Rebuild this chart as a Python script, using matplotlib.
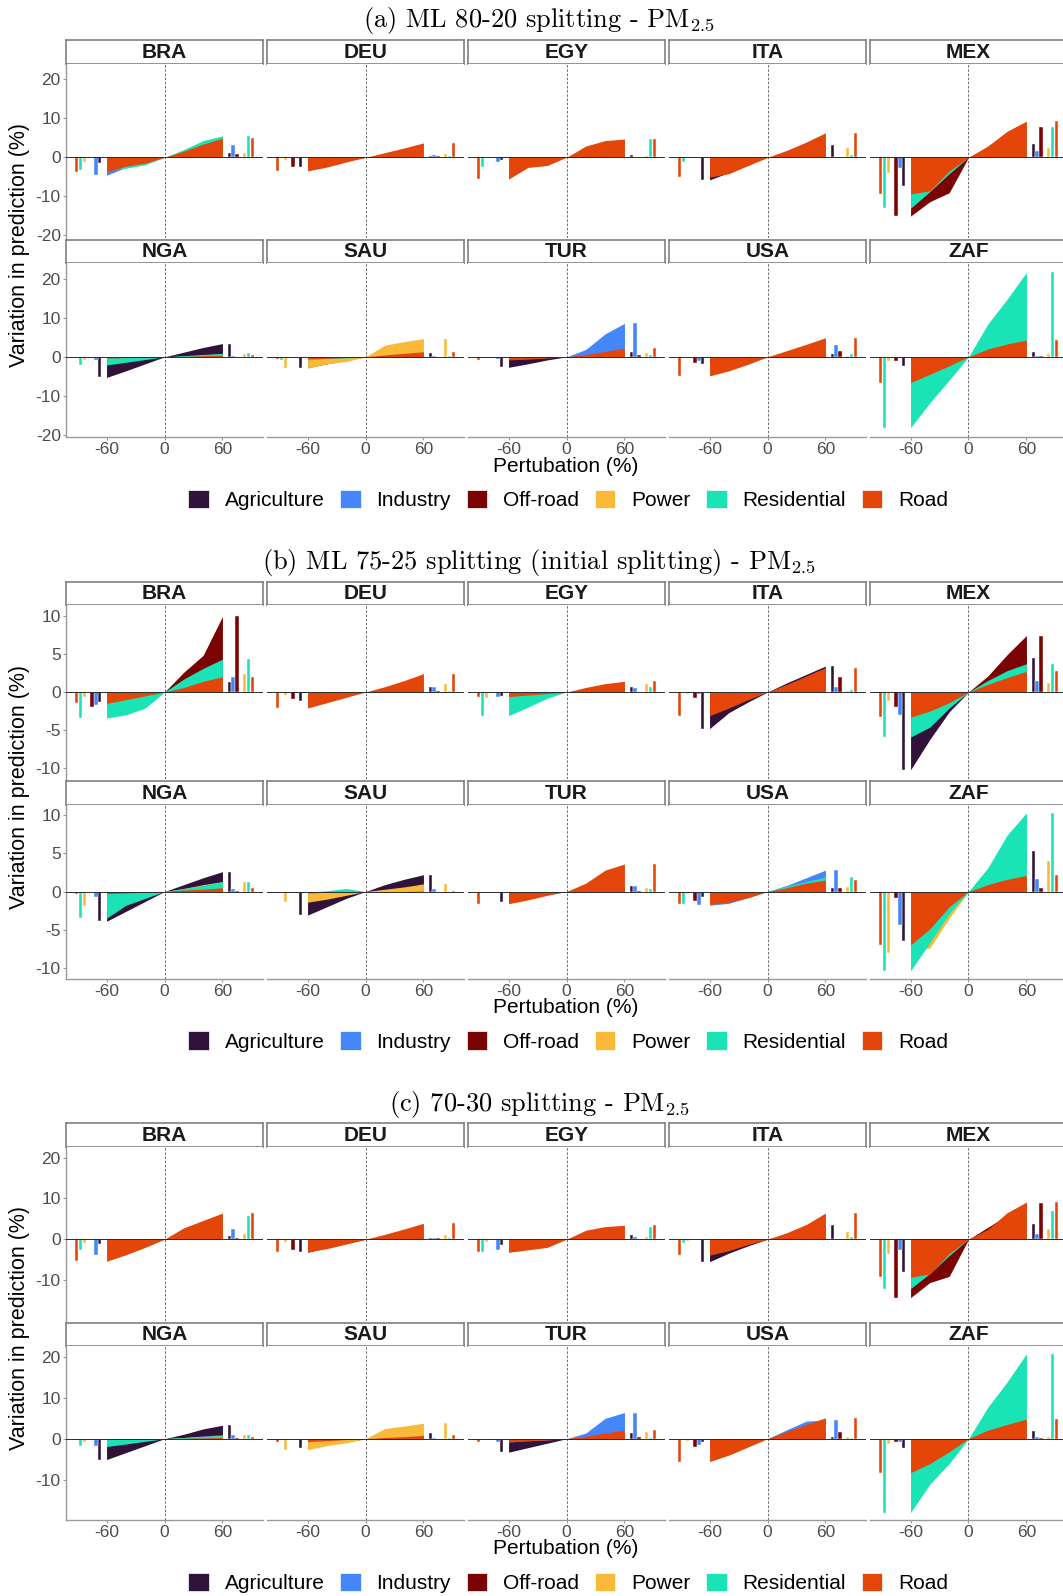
import numpy as np
import matplotlib.pyplot as plt
from matplotlib.patches import Patch

plt.rcParams['font.family'] = ['Liberation Sans', 'DejaVu Sans']
plt.rcParams['mathtext.fontset'] = 'cm'
plt.rcParams['axes.unicode_minus'] = False

W, H = 1063, 1596

pert = [-60, -40, -20, 0, 20, 40, 60]
sectors = ['Agriculture', 'Industry', 'Off-road', 'Power', 'Residential', 'Road']
colors = ['#30123B', '#4686FB', '#7A0403', '#FABA39', '#1AE4B6', '#E4460A']
countries = ['BRA', 'DEU', 'EGY', 'ITA', 'MEX', 'NGA', 'SAU', 'TUR', 'USA', 'ZAF']

# values per country, one row per sector (Agriculture ... Road), at pert points
sec_a = {
    'BRA': [[-1.5, -1.0, -0.5, 0, 0.4, 0.8, 1.2],
            [-4.6, -2.6, -1.3, 0, 1.1, 2.2, 3.2],
            [-0.2, -0.1, -0.1, 0, 0.2, 0.5, 0.9],
            [-1.3, -0.9, -0.4, 0, 0.4, 0.8, 1.2],
            [-3.2, -2.8, -1.9, 0, 2.0, 4.3, 5.5],
            [-3.7, -2.3, -1.5, 0, 1.6, 3.4, 4.9]],
    'DEU': [[-2.5, -1.6, -0.8, 0, 0.1, 0.2, 0.3],
            [-0.1, 0, 0, 0, 0.2, 0.3, 0.5],
            [-2.5, -1.6, -0.8, 0, 0.1, 0.2, 0.3],
            [-0.6, -0.4, -0.2, 0, 0.3, 0.5, 0.8],
            [-0.2, -0.1, -0.1, 0, 0.1, 0.2, 0.3],
            [-3.5, -2.5, -1.2, 0, 1.2, 2.4, 3.7]],
    'EGY': [[-0.6, -0.4, -0.2, 0, 0.2, 0.5, 0.7],
            [-1.3, -0.9, -0.4, 0, 0.1, 0.1, 0.2],
            [0, 0, 0, 0, 0, 0, 0],
            [-0.3, -0.2, -0.1, 0, 0.1, 0.2, 0.3],
            [-2.5, -1.5, -0.8, 0, 0.3, 0.5, 4.7],
            [-5.6, -2.6, -2.1, 0, 2.9, 4.3, 4.7]],
    'ITA': [[-5.8, -3.9, -1.9, 0, 1.0, 2.0, 3.1],
            [-0.2, -0.1, 0, 0, 0.1, 0.1, 0.1],
            [0, 0, 0, 0, 0, 0, 0],
            [-0.3, -0.2, -0.1, 0, 0.7, 1.5, 2.3],
            [-1.2, -0.8, -0.4, 0, 0.2, 0.4, 0.6],
            [-5.1, -4.2, -2.1, 0, 1.8, 3.9, 6.3]],
    'MEX': [[-7.3, -5.0, -2.5, 0, 1.2, 2.4, 3.5],
            [-2.8, -1.9, -0.9, 0, 0.5, 1.1, 1.6],
            [-15.1, -11.4, -9.1, 0, 2.5, 5.2, 7.8],
            [-4.1, -2.8, -1.4, 0, 0.8, 1.6, 2.4],
            [-13.1, -8.8, -4.2, 0, 2.6, 5.3, 7.8],
            [-9.4, -8.6, -3.5, 0, 2.9, 6.7, 9.3]],
    'NGA': [[-5.3, -3.6, -1.8, 0, 1.2, 2.4, 3.4],
            [-0.7, -0.5, -0.2, 0, 0.1, 0.1, 0.2],
            [0, 0, 0, 0, 0, 0, 0.05],
            [-0.8, -0.5, -0.3, 0, 0.2, 0.5, 0.7],
            [-2.1, -1.4, -0.7, 0, 0.3, 0.6, 0.9],
            [-0.3, -0.2, -0.1, 0, 0.1, 0.3, 0.4]],
    'SAU': [[-2.8, -1.8, -0.9, 0, 0.3, 0.6, 0.9],
            [-0.1, 0, 0, 0, 0.1, 0.2, 0.3],
            [0, 0, 0, 0, 0, 0, 0],
            [-2.9, -1.8, -1.2, 0, 3.0, 3.9, 4.7],
            [-0.8, -0.5, -0.3, 0, 0.1, 0.1, 0.2],
            [-0.5, -0.4, -0.2, 0, 0.5, 0.9, 1.3]],
    'TUR': [[-2.7, -1.8, -0.8, 0, 0.4, 0.8, 1.2],
            [-0.6, -0.4, -0.2, 0, 1.9, 5.9, 8.6],
            [-0.2, -0.1, 0, 0, 0.2, 0.3, 0.5],
            [-0.1, 0, 0, 0, 0.3, 0.6, 1.0],
            [-0.3, -0.2, -0.1, 0, 0.2, 0.3, 0.5],
            [-0.8, -0.6, -0.3, 0, 0.6, 1.4, 2.2]],
    'USA': [[-1.8, -1.2, -0.6, 0, 0.3, 0.6, 0.8],
            [-1.0, -0.7, -0.3, 0, 1.0, 2.0, 3.0],
            [-1.5, -1.0, -0.5, 0, 0.5, 1.0, 1.6],
            [-0.1, 0, 0, 0, 0.1, 0.2, 0.3],
            [-0.3, -0.2, -0.1, 0, 0.3, 0.5, 0.7],
            [-4.9, -3.6, -1.9, 0, 1.6, 3.2, 4.9]],
    'ZAF': [[-2.3, -1.5, -0.8, 0, 0.4, 0.9, 1.3],
            [-0.3, -0.2, -0.1, 0, 0.1, 0.2, 0.3],
            [-1.0, -0.7, -0.3, 0, 0, 0.1, 0.1],
            [-1.2, -0.8, -0.4, 0, 0.3, 0.5, 0.8],
            [-18.2, -11.8, -6.0, 0, 8.4, 14.8, 21.7],
            [-6.6, -4.5, -2.3, 0, 2.0, 3.3, 4.3]],
}

sec_b = {
    'BRA': [[-1.3, -0.9, -0.4, 0, 0.4, 0.9, 1.3],
            [-1.7, -1.1, -0.6, 0, 0.6, 1.3, 2.0],
            [-1.9, -1.3, -0.6, 0, 2.6, 4.8, 9.9],
            [-0.7, -0.5, -0.2, 0, 0.8, 1.6, 2.4],
            [-3.4, -3.0, -2.1, 0, 1.7, 3.1, 4.3],
            [-1.5, -1.0, -0.5, 0, 0.6, 1.4, 2.0]],
    'DEU': [[-1.2, -0.8, -0.4, 0, 0.2, 0.5, 0.7],
            [-0.1, 0, 0, 0, 0.2, 0.5, 0.7],
            [-0.9, -0.6, -0.3, 0, 0, 0.1, 0.1],
            [-0.4, -0.3, -0.1, 0, 0.3, 0.7, 1.0],
            [-0.1, 0, 0, 0, 0, 0.1, 0.1],
            [-2.1, -1.4, -0.7, 0, 0.7, 1.5, 2.4]],
    'EGY': [[-0.5, -0.3, -0.2, 0, 0.2, 0.4, 0.6],
            [-0.6, -0.4, -0.2, 0, 0.2, 0.3, 0.5],
            [0, 0, 0, 0, 0, 0, 0],
            [-0.8, -0.5, -0.3, 0, 0.3, 0.7, 1.0],
            [-3.1, -2.0, -0.8, 0, 0.2, 0.4, 0.6],
            [-0.6, -0.4, -0.2, 0, 0.6, 1.1, 1.4]],
    'ITA': [[-4.8, -2.7, -1.3, 0, 1.2, 2.3, 3.4],
            [-0.3, -0.2, -0.1, 0, 0.2, 0.5, 0.7],
            [-0.75, -0.5, -0.25, 0, 0.6, 1.3, 2.0],
            [-0.2, -0.1, -0.1, 0, 0, 0.1, 0.1],
            [-0.1, 0, 0, 0, 0.1, 0.2, 0.3],
            [-3.1, -2.1, -1.0, 0, 1.0, 2.1, 3.2]],
    'MEX': [[-10.2, -6.2, -2.6, 0, 1.4, 3.0, 4.5],
            [-3.0, -2.0, -1.0, 0, 0.5, 1.0, 1.5],
            [-2.0, -1.3, -0.7, 0, 2.1, 4.9, 7.4],
            [-1.2, -0.8, -0.4, 0, 0.4, 0.8, 1.2],
            [-5.9, -4.6, -2.1, 0, 1.5, 2.8, 3.7],
            [-3.3, -2.5, -1.4, 0, 1.0, 1.9, 2.7]],
    'NGA': [[-3.9, -2.6, -1.3, 0, 0.9, 1.8, 2.6],
            [-0.7, -0.5, -0.2, 0, 0.1, 0.2, 0.3],
            [0, 0, 0, 0, 0, 0, 0.05],
            [-1.9, -1.3, -0.6, 0, 0.4, 0.9, 1.3],
            [-3.5, -1.8, -0.9, 0, 0.4, 0.8, 1.3],
            [-0.3, -0.2, -0.1, 0, 0.2, 0.3, 0.5]],
    'SAU': [[-3.1, -2.0, -0.9, 0, 0.9, 1.6, 2.2],
            [-0.2, -0.1, -0.1, 0, 0.1, 0.2, 0.3],
            [0, 0, 0, 0, 0, 0, 0],
            [-1.4, -1.0, -0.5, 0, 0.3, 0.6, 1.0],
            [-0.1, 0.1, 0.4, 0, 0, 0, 0],
            [-0.2, -0.1, -0.1, 0, 0, 0, 0.05]],
    'TUR': [[-1.4, -0.9, -0.4, 0, 0.2, 0.5, 0.7],
            [-0.1, 0, 0, 0, 0.2, 0.5, 0.7],
            [0, 0, 0, 0, 0, 0, 0.1],
            [-0.1, 0, 0, 0, 0.1, 0.3, 0.4],
            [0, 0, 0, 0, 0.1, 0.2, 0.3],
            [-1.6, -1.1, -0.5, 0, 1.1, 2.8, 3.6]],
    'USA': [[-0.7, -0.5, -0.2, 0, 0.2, 0.3, 0.5],
            [-1.8, -1.55, -0.8, 0, 0.8, 1.8, 2.8],
            [-1.2, -0.8, -0.4, 0, 0.1, 0.3, 0.4],
            [-0.3, -0.2, -0.1, 0, 0.1, 0.2, 0.6],
            [-1.7, -1.3, -0.7, 0, 0.7, 1.3, 1.9],
            [-1.7, -1.4, -0.8, 0, 0.5, 1.1, 1.5]],
    'ZAF': [[-6.5, -4.3, -2.1, 0, 1.8, 3.5, 5.3],
            [-4.4, -2.9, -1.4, 0, 0.5, 1.1, 1.6],
            [-0.9, -0.6, -0.3, 0, 0.2, 0.3, 0.5],
            [-8.1, -7.4, -3.5, 0, 1.3, 2.7, 4.0],
            [-10.4, -6.7, -2.9, 0, 3.1, 7.4, 10.3],
            [-7.0, -4.9, -2.0, 0, 0.9, 1.6, 2.1]],
}

sec_c = {
    'BRA': [[-1.1, -0.7, -0.4, 0, 0.3, 0.5, 0.8],
            [-3.9, -2.6, -1.3, 0, 0.9, 1.7, 2.6],
            [0, 0, 0, 0, 0.1, 0.1, 0.2],
            [-0.9, -0.6, -0.3, 0, 0.4, 0.8, 1.2],
            [-2.6, -1.7, -0.9, 0, 1.9, 3.7, 5.6],
            [-5.4, -3.8, -2.0, 0, 2.8, 4.6, 6.4]],
    'DEU': [[-3.2, -2.1, -1.0, 0, 0.1, 0.2, 0.3],
            [0, 0, 0, 0, 0.1, 0.3, 0.4],
            [-2.7, -1.8, -0.9, 0, 0.1, 0.1, 0.2],
            [-0.6, -0.4, -0.2, 0, 0.4, 0.7, 1.1],
            [-0.1, 0, 0, 0, 0.1, 0.2, 0.3],
            [-3.1, -2.3, -1.2, 0, 1.2, 2.5, 3.9]],
    'EGY': [[-1.3, -0.9, -0.4, 0, 0.3, 0.7, 1.0],
            [-2.6, -1.7, -0.9, 0, 0.2, 0.3, 0.5],
            [0, 0, 0, 0, 0, 0, 0],
            [-0.6, -0.4, -0.2, 0, 0.2, 0.3, 0.5],
            [-3.2, -2.1, -1.0, 0, 0.3, 0.5, 3.1],
            [-3.2, -2.6, -2.0, 0, 2.2, 3.1, 3.4]],
    'ITA': [[-5.5, -3.4, -1.6, 0, 1.1, 2.2, 3.4],
            [-0.2, -0.1, -0.1, 0, 0, 0, 0],
            [0, 0, 0, 0, 0, 0, 0],
            [-0.5, -0.3, -0.2, 0, 0.6, 1.2, 1.8],
            [-1.0, -0.6, -0.4, 0, 0.2, 0.3, 0.5],
            [-3.9, -2.8, -1.3, 0, 1.6, 3.6, 6.4]],
    'MEX': [[-8.0, -5.3, -2.7, 0, 1.2, 2.5, 3.7],
            [-2.7, -1.8, -0.9, 0, 0.5, 0.9, 1.4],
            [-14.3, -10.6, -9.1, 0, 2.9, 5.9, 8.9],
            [-3.6, -2.4, -1.2, 0, 0.8, 1.7, 2.5],
            [-12.1, -8.4, -4.0, 0, 2.3, 4.7, 7.0],
            [-9.3, -8.5, -3.5, 0, 2.4, 6.5, 9.1]],
    'NGA': [[-5.1, -3.4, -1.7, 0, 1.1, 2.4, 3.3],
            [-1.7, -1.1, -0.6, 0, 0.3, 0.7, 1.0],
            [-0.2, -0.1, -0.1, 0, 0, 0.1, 0.1],
            [-0.8, -0.5, -0.3, 0, 0.3, 0.5, 0.8],
            [-1.9, -1.3, -0.6, 0, 0.3, 0.5, 0.8],
            [-0.2, -0.1, -0.1, 0, 0.1, 0.2, 0.3]],
    'SAU': [[-2.3, -1.5, -0.8, 0, 0.4, 0.9, 1.3],
            [0, 0, 0, 0, 0, 0, 0.1],
            [0, 0, 0, 0, 0, 0, 0],
            [-2.7, -1.7, -1.0, 0, 2.5, 3.1, 3.8],
            [-0.4, -0.3, -0.1, 0, 0, 0.1, 0.1],
            [-0.7, -0.5, -0.2, 0, 0.3, 0.5, 0.8]],
    'TUR': [[-3.3, -2.2, -1.1, 0, 0.4, 0.9, 1.3],
            [-0.8, -0.5, -0.3, 0, 1.4, 5.0, 6.4],
            [-0.4, -0.3, -0.1, 0, 0.1, 0.3, 0.4],
            [-0.4, -0.3, -0.1, 0, 0.5, 1.1, 1.6],
            [-0.2, -0.1, -0.1, 0, 0, 0.1, 0.1],
            [-0.8, -0.5, -0.3, 0, 0.6, 1.4, 2.1]],
    'USA': [[-0.8, -0.5, -0.3, 0, 0.1, 0.2, 0.3],
            [-1.6, -1.1, -0.5, 0, 2.2, 4.3, 4.6],
            [-2.1, -1.4, -0.7, 0, 0.6, 1.1, 1.7],
            [-0.5, -0.3, -0.2, 0, 0.1, 0.2, 0.3],
            [-0.4, -0.3, -0.1, 0, 0.1, 0.1, 0.2],
            [-5.6, -4.0, -2.0, 0, 1.8, 3.5, 5.1]],
    'ZAF': [[-2.3, -1.5, -0.8, 0, 0.6, 1.2, 1.8],
            [-0.8, -0.5, -0.3, 0, 0.2, 0.3, 0.5],
            [-0.9, -0.6, -0.3, 0, 0.1, 0.1, 0.2],
            [-1.3, -0.9, -0.4, 0, 0.1, 0.3, 0.4],
            [-18.1, -11.1, -6.1, 0, 7.7, 13.9, 20.8],
            [-8.3, -6.1, -3.2, 0, 2.1, 3.5, 4.8]],
}

titles = [r'(a) ML 80-20 splitting - PM$_{2.5}$',
          r'(b) ML 75-25 splitting (initial splitting) - PM$_{2.5}$',
          r'(c) 70-30 splitting - PM$_{2.5}$']
sections = [sec_a, sec_b, sec_c]
ylims = [(-20.6, 24.1), (-11.4, 11.4), (-19.9, 22.7)]
yticks = [[-20, -10, 0, 10, 20], [-10, -5, 0, 5, 10], [-10, 0, 10, 20]]

# dodged bar slots for the values at +-60 (mirrored on the left)
bar_pos = [67, 71, 75, 83, 87, 91]

fig = plt.figure(figsize=(W / 100, H / 100), dpi=100)


def add_ax(x, y, w, h):
    return fig.add_axes([x / W, 1 - (y + h) / H, w / W, h / H])


axis_col = '#9a9a9a'
for k in range(3):
    s = 541.5 * k
    data = sections[k]
    fig.text(539 / W, 1 - (s + 21) / H, titles[k], ha='center', va='center',
             fontsize=19, family='cmr10')
    for n, c in enumerate(countries):
        r, col = divmod(n, 5)
        x0 = 66 + 201 * col
        st = s + 40 + 199.5 * r
        sax = add_ax(x0, st, 197, 23.5)
        sax.set_xticks([])
        sax.set_yticks([])
        for sp in sax.spines.values():
            sp.set_color('#808080')
            sp.set_linewidth(1.2)
        sax.text(0.5, 0.47, c, ha='center', va='center', fontsize=15,
                 fontweight='bold', color='#1a1a1a', transform=sax.transAxes)

        ax = add_ax(x0, st + 23.5, 197, 174)
        ax.axvline(0, color='#555555', lw=0.6, ls=(0, (3, 2)), zorder=1)
        for j in range(6):
            v = data[c][j]
            ax.fill_between(pert, 0, v, color=colors[j], lw=0, zorder=2)
            ax.bar([-bar_pos[j], bar_pos[j]], [v[0], v[-1]], width=3.4,
                   color=colors[j], edgecolor='white', lw=0.3, zorder=3)
        ax.axhline(0, color='#2b2b2b', lw=0.7, zorder=4)
        ax.set_xlim(-102, 102)
        ax.set_ylim(*ylims[k])
        ax.set_yticks(yticks[k])
        ax.set_xticks([-60, 0, 60])
        for sp in ax.spines.values():
            sp.set_visible(False)
        ax.tick_params(colors=axis_col, labelcolor='#4d4d4d', labelsize=12.5,
                       length=2.2, width=0.8, pad=1.5)
        if col == 0:
            ax.spines['left'].set_visible(True)
            ax.spines['left'].set_color(axis_col)
            ax.spines['left'].set_linewidth(1.0)
        else:
            ax.tick_params(left=False, labelleft=False)
        if r == 1:
            ax.spines['bottom'].set_visible(True)
            ax.spines['bottom'].set_color(axis_col)
            ax.spines['bottom'].set_linewidth(1.0)
        else:
            ax.tick_params(bottom=False, labelbottom=False)

    fig.text(20 / W, 1 - (s + 245) / H, 'Variation in prediction (%)',
             rotation=90, ha='center', va='center', fontsize=15.5)
    fig.text(566 / W, 1 - (s + 466) / H, 'Pertubation (%)',
             ha='center', va='center', fontsize=15)
    handles = [Patch(facecolor=colors[j], edgecolor='white', lw=0.5) for j in range(6)]
    fig.legend(handles, sectors, loc='center',
               bbox_to_anchor=(568 / W, 1 - (s + 500) / H), ncol=6,
               frameon=False, fontsize=15, handlelength=1.0, handleheight=1.0,
               handletextpad=0.75, columnspacing=0.75, borderpad=0)

fig.savefig('out.png', dpi=100)
